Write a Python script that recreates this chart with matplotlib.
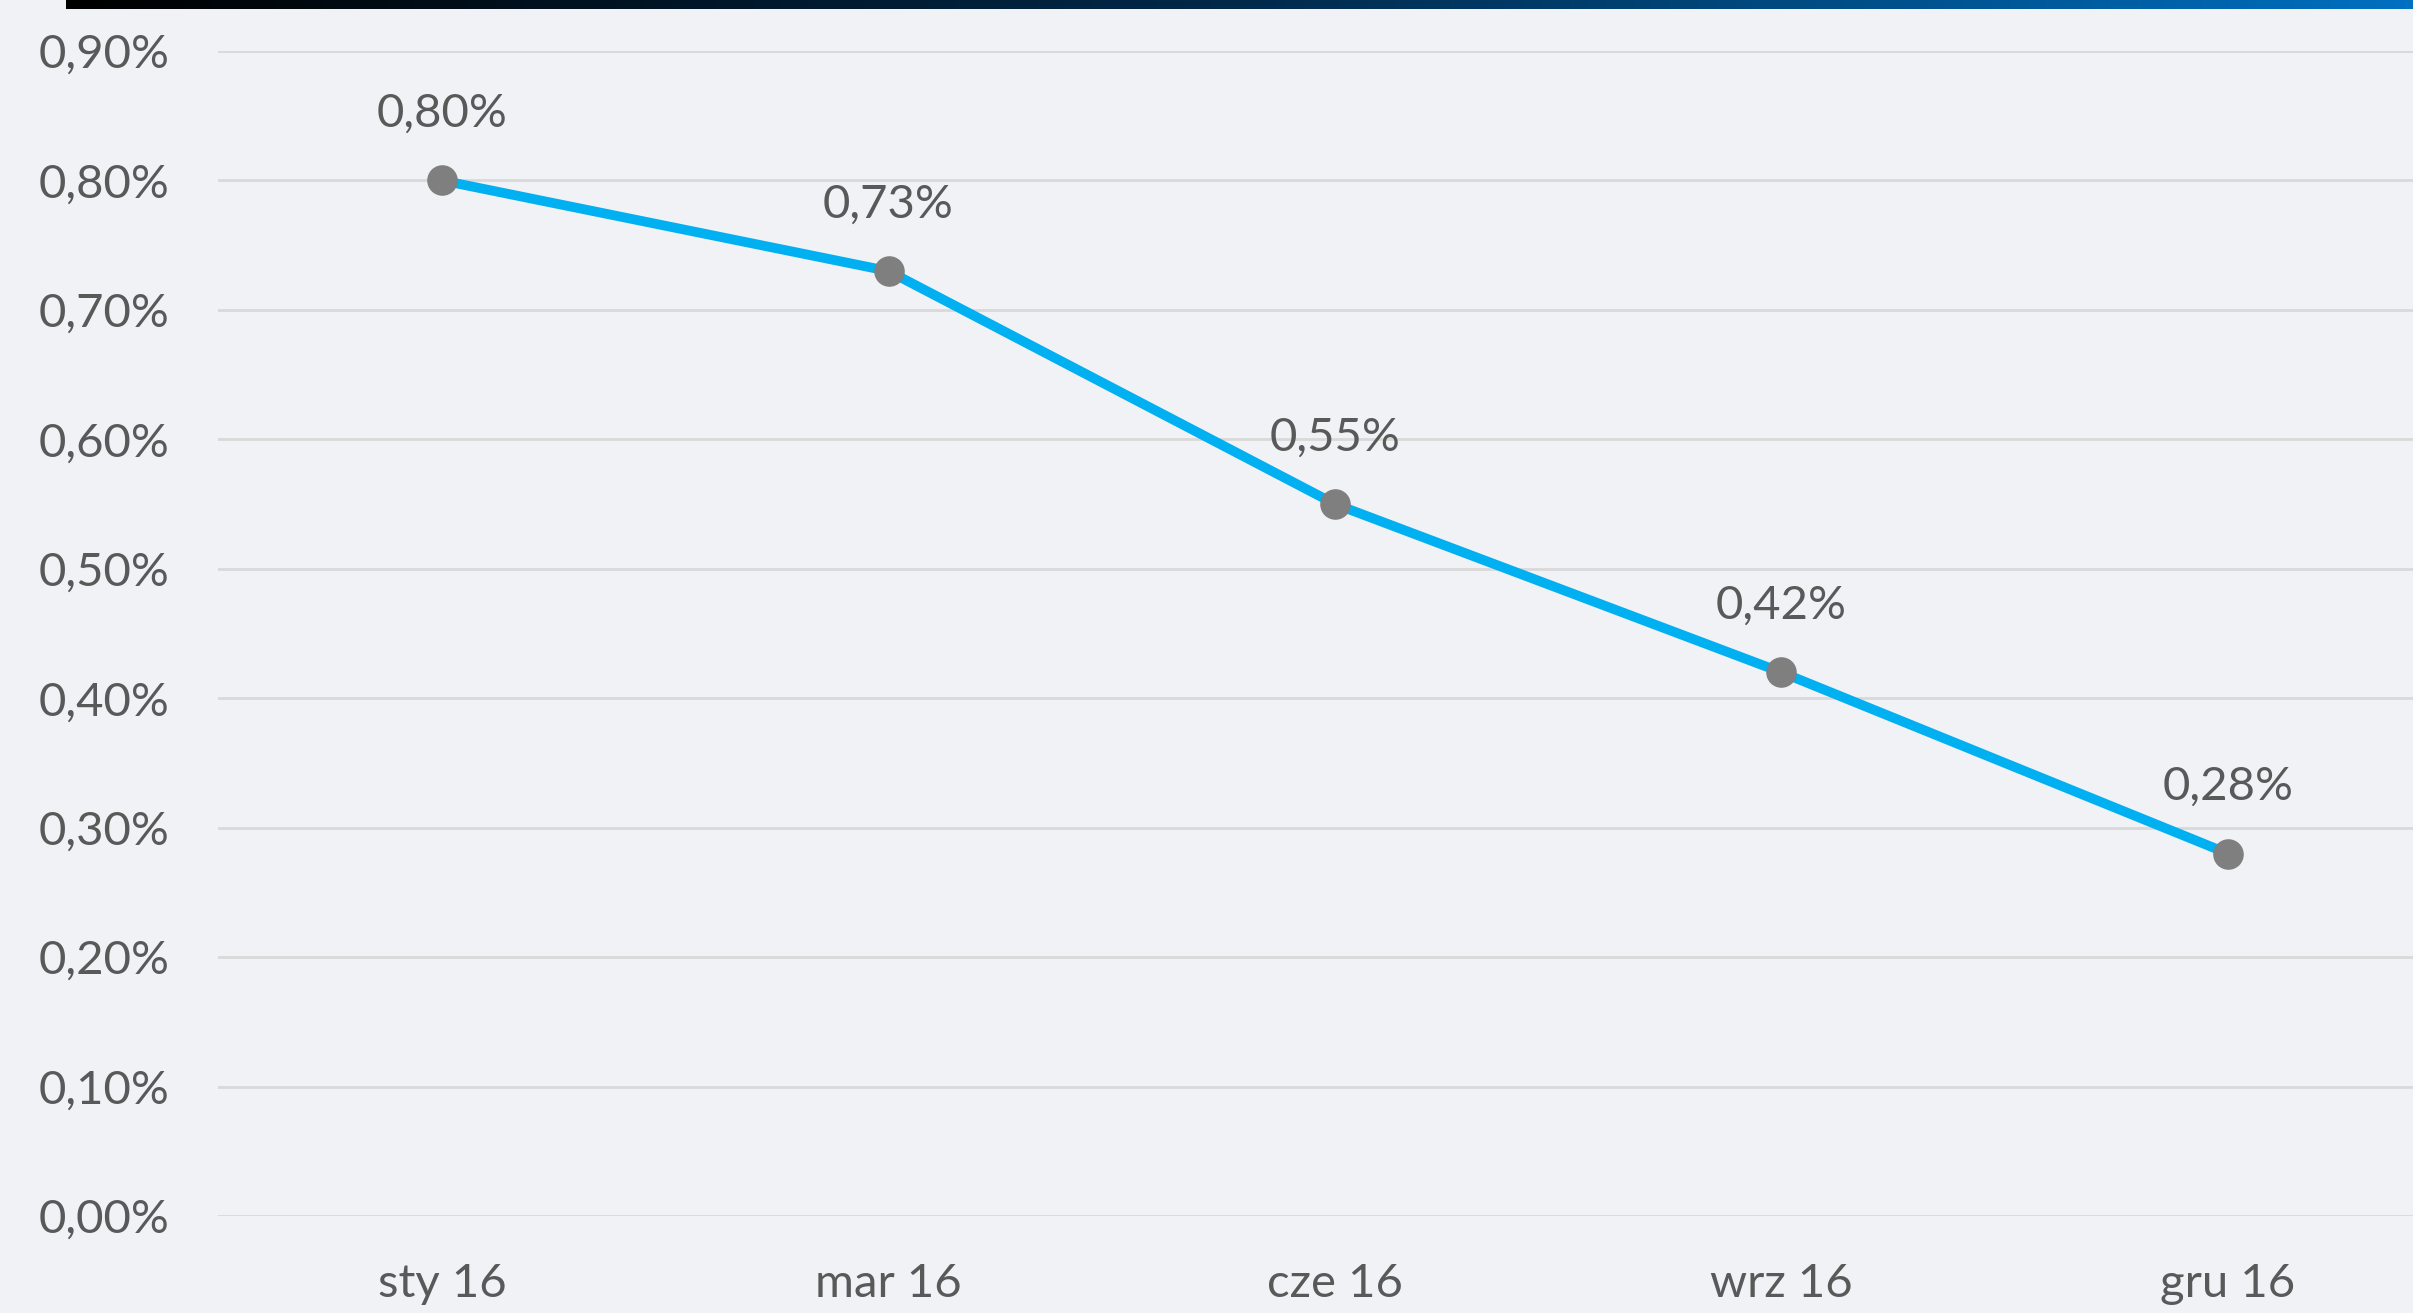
import matplotlib
matplotlib.use("Agg")
import matplotlib.pyplot as plt
import numpy as np
from matplotlib.colors import LinearSegmentedColormap

categories = ["sty 16", "mar 16", "cze 16", "wrz 16", "gru 16"]
values = [0.80, 0.73, 0.55, 0.42, 0.28]
value_labels = ["0,80%", "0,73%", "0,55%", "0,42%", "0,28%"]
y_ticks = [0.0, 0.1, 0.2, 0.3, 0.4, 0.5, 0.6, 0.7, 0.8, 0.9]
y_tick_labels = ["0,00%", "0,10%", "0,20%", "0,30%", "0,40%", "0,50%", "0,60%", "0,70%", "0,80%", "0,90%"]

W, H, DPI = 2413, 1313, 100
bg = "#F1F2F6"
txt = "#595959"
plt.rcParams["font.family"] = ["Lato", "DejaVu Sans"]

fig = plt.figure(figsize=(W / DPI, H / DPI), dpi=DPI, facecolor=bg)

# top gradient bar
bar_ax = fig.add_axes([66 / W, 1 - 9 / H, 1 - 66 / W, 9 / H])
cmap = LinearSegmentedColormap.from_list("g", ["#000000", "#01294A", "#0070C0"])
bar_ax.imshow(np.linspace(0, 1, 512)[None, :], aspect="auto", cmap=cmap)
bar_ax.axis("off")

left, right = 218, 2413
bottom, top = 1216, 51
ax = fig.add_axes([left / W, 1 - bottom / H, (right - left) / W, (bottom - top) / H])
ax.set_facecolor(bg)
x = np.arange(len(categories))
ax.plot(x, values, color="#00B0F0", lw=7, zorder=3, solid_capstyle="round")
ax.plot(x, values, ls="none", marker="o", ms=21, color="#7F7F7F", zorder=4)
for xi, v, lab in zip(x, values, value_labels):
    ax.annotate(lab, (xi, v), xytext=(0, 48), textcoords="offset points",
                ha="center", va="center", fontsize=34, color=txt)

# xlim so that sty at 442px, gru at 2228px
sp = (2228 - 442) / 4
ax.set_xlim((left - 442) / sp, (right - 442) / sp)
ax.set_ylim(0, 0.9)
ax.set_yticks(y_ticks)
ax.set_yticklabels(y_tick_labels)
ax.set_xticks(x)
ax.set_xticklabels(categories)
ax.tick_params(axis="both", length=0, labelsize=34, colors=txt)
ax.tick_params(axis="y", pad=35)
ax.tick_params(axis="x", pad=34)
ax.grid(axis="y", color="#D9D9D9", lw=2)
ax.set_axisbelow(True)
for s in ax.spines.values():
    s.set_visible(False)

fig.savefig("out.png", dpi=DPI, facecolor=bg)
